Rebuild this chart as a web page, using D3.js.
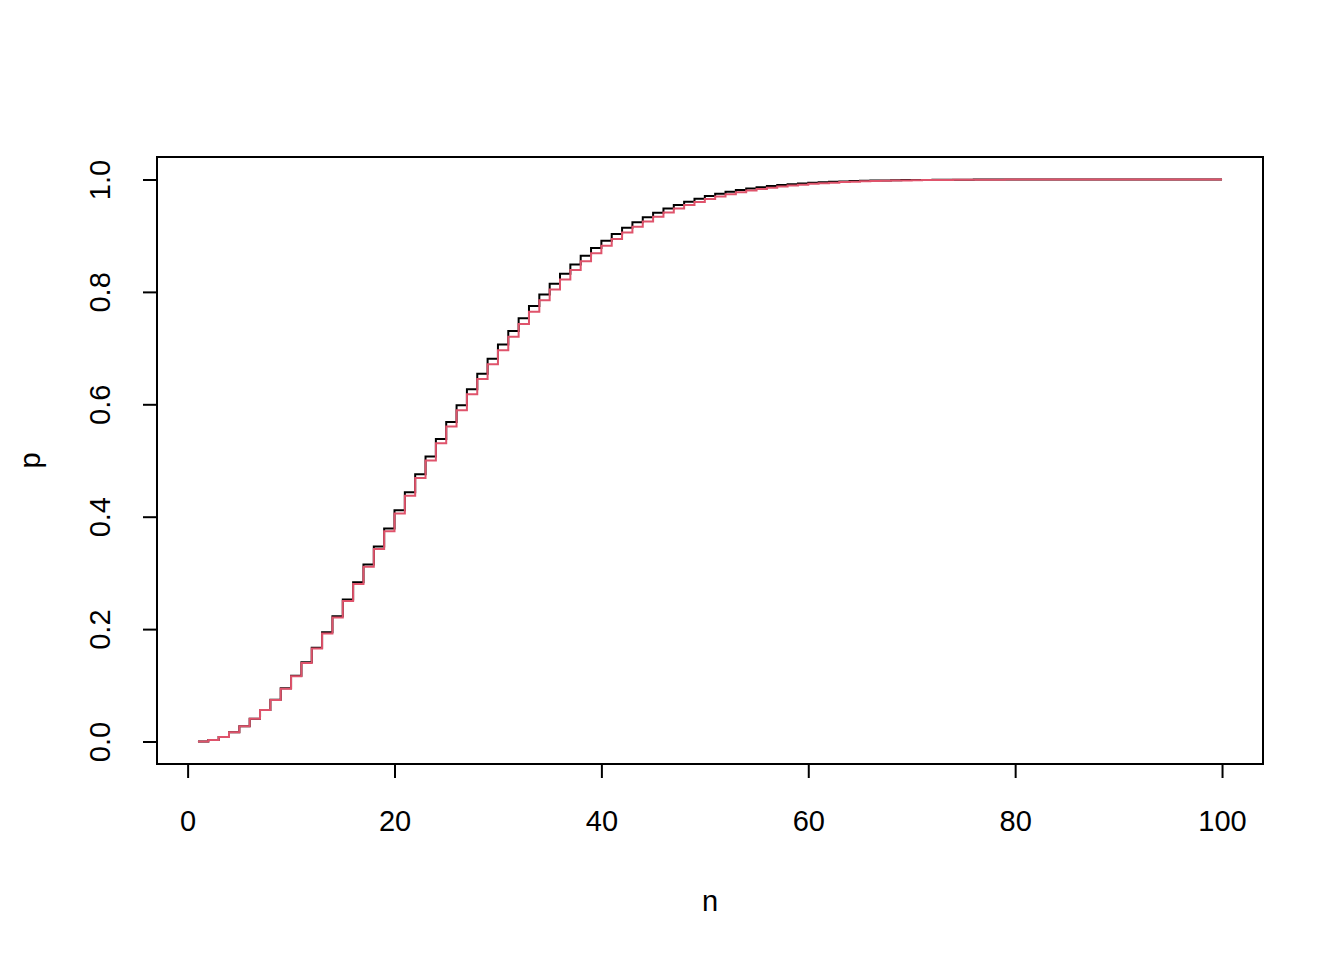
<!DOCTYPE html>
<html>
<head>
<meta charset="utf-8">
<script src="https://cdn.jsdelivr.net/npm/d3@7"></script>
<style>
  body { margin: 0; background: #fff; }
  svg text { font-family: "Liberation Sans", Arial, sans-serif; }
</style>
</head>
<body>
<div id="chart"></div>
<script>
var w = 1344, h = 960;

// group size n = 1..100
var nValues = d3.range(1, 101);

// exact probability of a shared birthday (black)
var pExact = [
  0, 0.0027, 0.0082, 0.0164, 0.0271, 0.0405, 0.0562, 0.0743, 0.0946, 0.1169,
  0.1411, 0.1670, 0.1944, 0.2231, 0.2529, 0.2836, 0.3150, 0.3469, 0.3791, 0.4114,
  0.4437, 0.4757, 0.5073, 0.5383, 0.5687, 0.5982, 0.6269, 0.6545, 0.6810, 0.7063,
  0.7305, 0.7533, 0.7750, 0.7953, 0.8144, 0.8322, 0.8487, 0.8641, 0.8782, 0.8912,
  0.9032, 0.9140, 0.9239, 0.9329, 0.9410, 0.9483, 0.9548, 0.9606, 0.9658, 0.9704,
  0.9744, 0.9780, 0.9811, 0.9839, 0.9863, 0.9883, 0.9901, 0.9917, 0.9930, 0.9941,
  0.9951, 0.9959, 0.9966, 0.9972, 0.9977, 0.9981, 0.9984, 0.9987, 0.9990, 0.9992,
  0.9993, 0.9995, 0.9996, 0.9997, 0.9997, 0.9998, 0.9998, 0.9999, 0.9999, 0.9999,
  0.9999, 1, 1, 1, 1, 1, 1, 1, 1, 1,
  1, 1, 1, 1, 1, 1, 1, 1, 1, 1
];

// approximate probability (red)
var pApprox = [
  0, 0.0027, 0.0082, 0.0163, 0.0270, 0.0403, 0.0559, 0.0738, 0.0939, 0.1160,
  0.1399, 0.1654, 0.1924, 0.2207, 0.2500, 0.2802, 0.3110, 0.3424, 0.3741, 0.4058,
  0.4375, 0.4689, 0.5000, 0.5305, 0.5604, 0.5896, 0.6177, 0.6450, 0.6712, 0.6963,
  0.7203, 0.7430, 0.7646, 0.7850, 0.8041, 0.8220, 0.8388, 0.8543, 0.8687, 0.8820,
  0.8942, 0.9055, 0.9157, 0.9251, 0.9336, 0.9413, 0.9483, 0.9545, 0.9601, 0.9651,
  0.9696, 0.9736, 0.9771, 0.9802, 0.9829, 0.9853, 0.9874, 0.9892, 0.9908, 0.9922,
  0.9934, 0.9944, 0.9953, 0.9960, 0.9967, 0.9972, 0.9977, 0.9981, 0.9984, 0.9987,
  0.9989, 0.9991, 0.9993, 0.9994, 0.9995, 0.9996, 0.9997, 0.9997, 0.9998, 0.9998,
  0.9999, 0.9999, 0.9999, 0.9999, 0.9999, 1, 1, 1, 1, 1,
  1, 1, 1, 1, 1, 1, 1, 1, 1, 1
];

var xTicks = [0, 20, 40, 60, 80, 100];
var yTicks = [0, 0.2, 0.4, 0.6, 0.8, 1.0];

var box = { left: 157, right: 1263, top: 157, bottom: 764 };

var svg = d3.select('#chart').append('svg')
  .attr('width', w)
  .attr('height', h);

// R style 4% padding on both axes
var x = d3.scaleLinear().domain([1 - 99 * 0.04, 100 + 99 * 0.04]).range([box.left, box.right]);
var y = d3.scaleLinear().domain([-0.04, 1.04]).range([box.bottom, box.top]);

var xAxis = d3.axisBottom(x).tickValues(xTicks).tickSize(14).tickPadding(32)
  .tickFormat(d3.format('d'));
var yAxis = d3.axisLeft(y).tickValues(yTicks).tickSize(14).tickPadding(0)
  .tickFormat(d3.format('.1f'));

var gx = svg.append('g').attr('transform', 'translate(0,' + box.bottom + ')').call(xAxis);
gx.select('.domain').attr('d', 'M' + x(0) + ',0H' + x(100));
gx.selectAll('line').attr('stroke-width', 2);
gx.select('.domain').attr('stroke-width', 2);
gx.selectAll('text').attr('font-size', 29).attr('fill', '#000');

var gy = svg.append('g').attr('transform', 'translate(' + box.left + ',0)').call(yAxis);
gy.select('.domain').attr('d', 'M0,' + y(0) + 'V' + y(1));
gy.selectAll('line').attr('stroke-width', 2);
gy.select('.domain').attr('stroke-width', 2);
gy.selectAll('text')
  .attr('font-size', 29)
  .attr('fill', '#000')
  .attr('text-anchor', 'middle')
  .attr('dy', null)
  .attr('x', null)
  .attr('transform', 'translate(-57,0) rotate(-90)')
  .attr('dominant-baseline', 'central');

// plot box
svg.append('rect')
  .attr('x', box.left).attr('y', box.top)
  .attr('width', box.right - box.left).attr('height', box.bottom - box.top)
  .attr('fill', 'none').attr('stroke', '#000').attr('stroke-width', 2);

var step = d3.line()
  .x(function(d) { return x(d[0]); })
  .y(function(d) { return y(d[1]); })
  .curve(d3.curveStepAfter);

svg.append('path')
  .datum(d3.zip(nValues, pExact))
  .attr('d', step)
  .attr('fill', 'none')
  .attr('stroke', '#000')
  .attr('stroke-width', 2);

svg.append('path')
  .datum(d3.zip(nValues, pApprox))
  .attr('d', step)
  .attr('fill', 'none')
  .attr('stroke', '#DF536B')
  .attr('stroke-width', 2);

// axis titles
svg.append('text')
  .attr('x', (box.left + box.right) / 2)
  .attr('y', 901)
  .attr('text-anchor', 'middle')
  .attr('dominant-baseline', 'central')
  .attr('font-size', 29)
  .text('n');

svg.append('text')
  .attr('transform', 'translate(30,' + (box.top + box.bottom) / 2 + ') rotate(-90)')
  .attr('text-anchor', 'middle')
  .attr('dominant-baseline', 'central')
  .attr('font-size', 29)
  .text('p');
</script>
</body>
</html>
